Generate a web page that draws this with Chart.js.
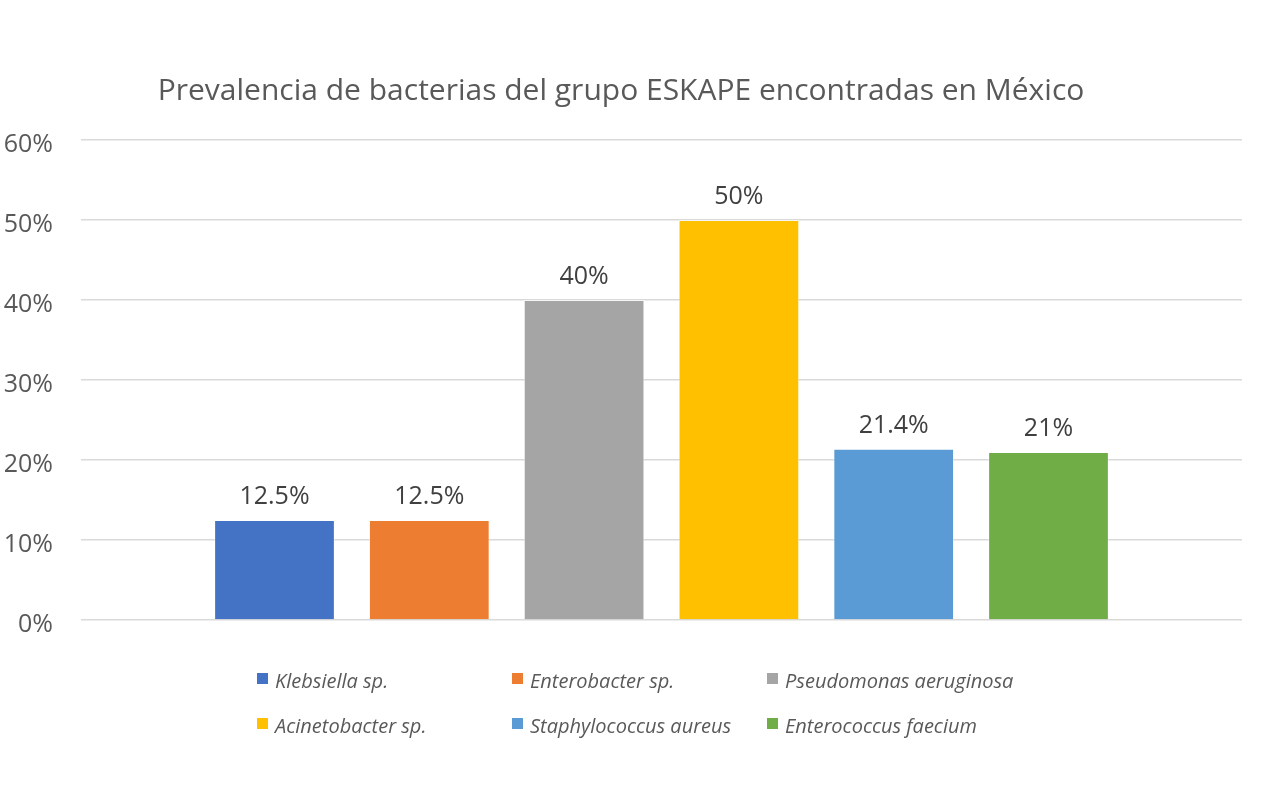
<!DOCTYPE html>
<html>
<head>
<meta charset="utf-8">
<script src="https://cdn.jsdelivr.net/npm/chart.js@4"></script>
<style>
    html, body { margin: 0; padding: 0; background: #ffffff; }
    #wrap { width: 1275px; height: 792px; position: relative; }
</style>
</head>
<body>
<div id="wrap"><canvas id="chart"></canvas></div>
<script>
// Chart data
const bacteria = [
    'Klebsiella sp.',
    'Enterobacter sp.',
    'Pseudomonas aeruginosa',
    'Acinetobacter sp.',
    'Staphylococcus aureus',
    'Enterococcus faecium',
];
const prevalence = [12.5, 12.5, 40, 50, 21.4, 21];
const barColors = ['#4472C4', '#ED7D31', '#A5A5A5', '#FFC000', '#5B9BD5', '#70AD47'];
const yTicks = [0, 10, 20, 30, 40, 50, 60];

const FONT = '"Open Sans", "Noto Sans", sans-serif';
const TEXT_GREY = '#595959';

// Value labels above each bar
const valueLabels = {
    id: 'valueLabels',
    afterDatasetsDraw(chart) {
        const ctx = chart.ctx;
        ctx.save();
        ctx.font = '25px ' + FONT;
        ctx.fillStyle = '#404040';
        ctx.textAlign = 'center';
        ctx.textBaseline = 'alphabetic';
        chart.data.datasets.forEach((ds, i) => {
            const bar = chart.getDatasetMeta(i).data[0];
            ctx.fillText(ds.data[0] + '%', bar.x, bar.y - 16);
        });
        ctx.restore();
    },
};

// Legend laid out in a 3-column grid, like the original
const gridLegend = {
    id: 'gridLegend',
    afterDraw(chart) {
        const ctx = chart.ctx;
        ctx.save();
        ctx.font = 'italic 20px ' + FONT;
        ctx.textBaseline = 'alphabetic';
        ctx.textAlign = 'left';
        chart.data.datasets.forEach((ds, i) => {
            const x = 257 + (i % 3) * 255;
            const y = 673 + Math.floor(i / 3) * 45;
            ctx.fillStyle = ds.backgroundColor;
            ctx.fillRect(x, y, 11, 11);
            ctx.fillStyle = TEXT_GREY;
            ctx.fillText(ds.label, x + 18, y + 15);
        });
        ctx.restore();
    },
};

const datasets = bacteria.map((name, i) => ({
    label: name,
    data: [prevalence[i]],
    backgroundColor: barColors[i],
    borderColor: 'rgba(255, 255, 255, 0.5)',
    borderWidth: 1,
    categoryPercentage: 0.8,
    barPercentage: 0.78,
}));

const ctx = document.getElementById('chart').getContext('2d');
new Chart(ctx, {
    type: 'bar',
    data: {
        labels: [''],
        datasets: datasets,
    },
    options: {
        responsive: true,
        maintainAspectRatio: false,
        animation: false,
        layout: {
            padding: { left: 0, right: 33, top: 0, bottom: 172 },
        },
        scales: {
            x: {
                display: false,
            },
            y: {
                min: 0,
                max: 60,
                afterFit: (scale) => { scale.width = 81; },
                afterBuildTicks: (scale) => {
                    scale.ticks = yTicks.map((v) => ({ value: v }));
                },
                ticks: {
                    padding: 28,
                    labelOffset: 5,
                    color: TEXT_GREY,
                    font: { family: FONT, size: 25 },
                    callback: (v) => v + '%',
                },
                grid: {
                    color: '#D9D9D9',
                    lineWidth: 1.5,
                    drawTicks: false,
                },
                border: { display: false },
            },
        },
        plugins: {
            legend: { display: false },
            tooltip: { enabled: false },
            title: {
                display: true,
                text: 'Prevalencia de bacterias del grupo ESKAPE encontradas en México',
                color: TEXT_GREY,
                font: { family: FONT, size: 30, weight: 'normal' },
                padding: { top: 73, bottom: 31 },
            },
        },
    },
    plugins: [valueLabels, gridLegend],
});
</script>
</body>
</html>
